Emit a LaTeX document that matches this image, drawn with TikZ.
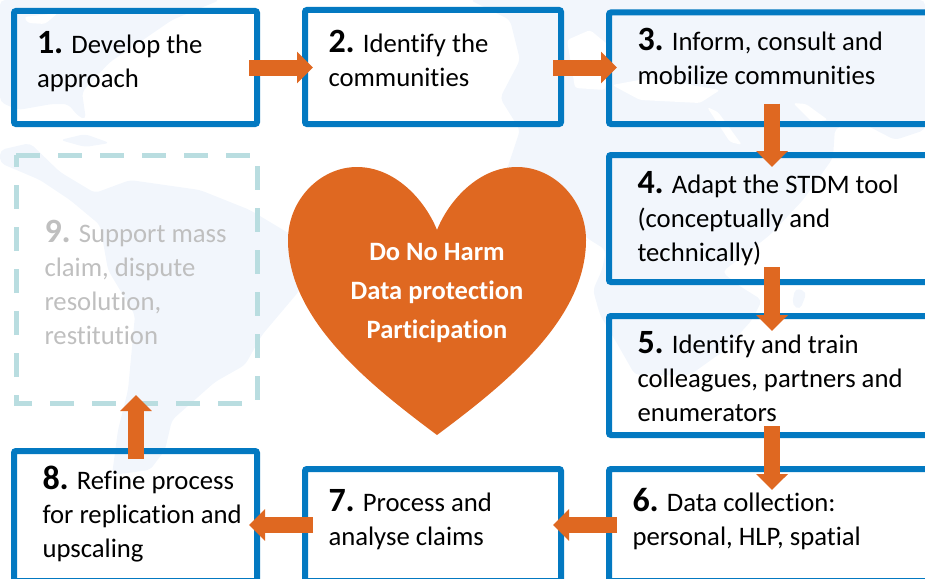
\documentclass[tikz,border=0pt]{standalone}
\usepackage{fontspec}
\setmainfont[Ligatures=NoCommon]{Carlito}
\usetikzlibrary{arrows.meta,calc}
\definecolor{stepblue}{HTML}{0379C1}
\definecolor{flow}{HTML}{DF6821}
\definecolor{ghost}{HTML}{B9DDE0}
\definecolor{ghosttext}{HTML}{BFBFBF}
\definecolor{land}{HTML}{F2F6FC}
\newcommand{\stepnum}[1]{{\fontsize{34}{34}\selectfont\bfseries #1}}
% width, height, dx, dy, text
\newcommand{\steptext}[5]{\vbox to #2pt{\hsize=#1pt\hbox to #1pt{\kern #3pt\raisebox{-#4pt}[0pt][0pt]{\vtop{\hsize=300pt\baselineskip=34pt\lineskiplimit=-100pt\parindent=0pt\raggedright\rightskip=0pt plus 1fil #5}}\hss}\vss}}
\tikzset{
  x=1pt,y=-1pt,
  stepbox/.style={draw=stepblue,line width=6pt,rounded corners=2pt,inner sep=0pt,outer sep=0pt,anchor=north west,text=black,font=\fontsize{26.7}{34}\selectfont},
  ghostbox/.style={stepbox,draw=none,text=ghosttext},
  ghostline/.style={draw=ghost,line width=5pt,dash pattern=on 24pt off 18pt},
  flowarrow/.style={-{Triangle[length=16pt,width=31pt]},draw=flow,line width=16pt},
  heartlabel/.style={text=white,font=\fontsize{26.5}{26.5}\selectfont\bfseries,align=center,inner sep=0pt,anchor=base},
  landmass/.style={fill=land,draw=none,rounded corners=5pt},
  sea/.style={fill=white,draw=none,rounded corners=3pt}
}
\begin{document}
\begin{tikzpicture}
\useasboundingbox (0,0) rectangle (925,578);
\clip (0,0) rectangle (925,578);
% background map
\path[landmass] (0,0) -- (220,0) -- (172,20) -- (140,42) -- (110,62) -- (82,92) -- (86,120) -- (78,116) -- (68,104) -- (52,104) -- (18,110) -- (0,102) -- cycle;
\path[sea] (24,17) -- (58,13) -- (45,24) -- (28,23) -- cycle;
\path[landmass] (0,150) -- (30,143) -- (60,172) -- (95,193) -- (130,180) -- (200,190) -- (250,210) -- (300,240) -- (300,290) -- (262,335) -- (245,365) -- (215,382) -- (172,420) -- (165,450) -- (150,470) -- (112,475) -- (118,430) -- (128,390) -- (135,315) -- (108,270) -- (100,225) -- (70,200) -- (40,180) -- (0,163) -- cycle;
\path[landmass] (60,140) -- (85,134) -- (110,143) -- (85,147) -- cycle;
\path[landmass] (470,0) -- (925,0) -- (925,130) -- (895,140) -- (860,122) -- (835,128) -- (833,158) -- (803,200) -- (770,235) -- (722,272) -- (738,285) -- (762,300) -- (752,320) -- (725,350) -- (690,375) -- (635,375) -- (615,340) -- (600,315) -- (593,290) -- (602,270) -- (606,250) -- (590,240) -- (565,222) -- (500,190) -- (520,130) -- (500,98) -- (520,60) -- (510,20) -- cycle;
\path[sea] (567,40) -- (590,30) -- (612,48) -- (605,90) -- (575,88) -- cycle;
\path[sea] (612,85) -- (650,78) -- (720,90) -- (700,103) -- (640,100) -- cycle;
\path[sea] (707,107) -- (718,112) -- (742,145) -- (730,142) -- cycle;
\path[sea] (793,103) -- (806,104) -- (828,120) -- (812,122) -- cycle;
\path[landmass] (795,288) -- (807,292) -- (800,310) -- (792,305) -- cycle;
% steps
\node[stepbox] (s1) at (14,11) {\steptext{243}{113}{23}{42.5}{\stepnum{1.} Develop the\\approach}};
\node[stepbox] (s2) at (305,10) {\steptext{256}{114}{23.5}{42.5}{\stepnum{2.} Identify the\\communities}};
\node[stepbox] (s3) at (609,12.5) {\steptext{319}{111.5}{28.5}{37.5}{\stepnum{3.} Inform, consult and\\mobilize communities}};
\node[stepbox] (s4) at (609,155) {\steptext{319}{127}{28.5}{38}{\stepnum{4.} Adapt the STDM tool\\(conceptually and\\technically)}};
\node[stepbox] (s5) at (609,316) {\steptext{319}{119}{28.5}{37}{\stepnum{5.} Identify and train\\colleagues, partners and\\enumerators}};
\node[stepbox] (s6) at (609,469) {\steptext{319}{112}{23.5}{42.5}{\stepnum{6.} Data collection:\\personal, HLP, spatial}};
\node[stepbox] (s7) at (305,469) {\steptext{256}{112}{23.5}{42.5}{\stepnum{7.} Process and\\analyse claims}};
\node[stepbox] (s8) at (14,451) {\steptext{243}{130}{28.5}{38}{\stepnum{8.} Refine process\\for replication and\\upscaling}};
\node[ghostbox] (s9) at (16,155) {\steptext{241}{248}{28.5}{87}{\stepnum{9.} Support mass\\claim, dispute\\resolution,\\restitution}};
\draw[ghostline] (s9.north west) -- (s9.north east) -- (s9.south east) -- (s9.south west) -- cycle;
% heart
\fill[flow] (437,435) .. controls (370,385) and (288,320) .. (288,240) .. controls (288,200) and (320,167) .. (357,167) .. controls (395,167) and (425,200) .. (437,230) .. controls (449,200) and (479,167) .. (517,167) .. controls (554,167) and (586,200) .. (586,240) .. controls (586,320) and (504,385) .. (437,435) -- cycle;
\node[heartlabel] (h1) at (437,260.5) {Do No Harm};
\node[heartlabel] (h2) at (437,299.5) {Data protection};
\node[heartlabel] (h3) at (437,338) {Participation};
% connectors
\draw[flowarrow] ($(s1.east)+(-8,0)$) -- ($(s1.east -| s2.west)+(8,0)$);
\draw[flowarrow] ($(s1.east -| s2.east)+(-8,0)$) -- ($(s1.east -| s3.west)+(8,0)$);
\draw[flowarrow] ($(s3.south)+(3.5,-20.5)$) -- ($(s3.south |- s4.north)+(3.5,12)$);
\draw[flowarrow] ($(s4.south)+(3.5,-15)$) -- ($(s4.south |- s5.north)+(3.5,15)$);
\draw[flowarrow] ($(s5.south)+(3.5,-9)$) -- ($(s5.south |- s6.north)+(3.5,21)$);
\draw[flowarrow] ($(s6.west)+(8,0)$) -- ($(s6.west -| s7.east)+(-8,0)$);
\draw[flowarrow] ($(s6.west -| s7.west)+(8,0)$) -- ($(s6.west -| s8.east)+(-8,0)$);
\draw[flowarrow] ($(s8.north)+(0.5,8)$) -- ($(s8.north |- s9.south)+(0.5,-8)$);
\end{tikzpicture}
\end{document}
